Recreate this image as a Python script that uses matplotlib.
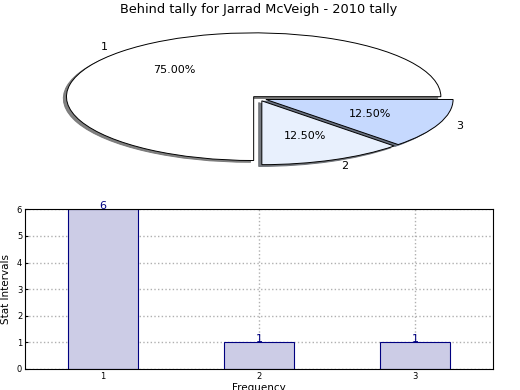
import matplotlib
matplotlib.use('Agg')
import matplotlib.pyplot as plt

# data
slice_labels = ['1', '2', '3']
slice_counts = [6, 1, 1]
slice_colors = ['#ffffff', '#e8f0fd', '#c6d9fe']

bar_positions = [1, 2, 3]
bar_counts = [6, 1, 1]
bar_tick_labels = ['1', '2', '3']
y_ticks = [0, 1, 2, 3, 4, 5, 6]

title = 'Behind tally for Jarrad McVeigh - 2010 tally'

fig = plt.figure(figsize=(5.2, 3.9), dpi=100)
fig.subplots_adjust(left=0.048, right=0.948, bottom=0.054, top=0.952, hspace=0.195)

# top: stretched pie with shadow
ax1 = fig.add_subplot(211)
wedges, texts, autotexts = ax1.pie(slice_counts, labels=slice_labels, colors=slice_colors,
                                   explode=[0.04, 0.04, 0.04], autopct='%1.2f%%',
                                   shadow=dict(ox=-0.012, oy=-0.02, shade=0.55, alpha=0.9),
                                   startangle=0,
                                   wedgeprops=dict(edgecolor='black', linewidth=0.7),
                                   textprops=dict(fontsize=8))
ax1.set_aspect('auto')
ax1.set_xlim(-1.25, 1.25)
ax1.set_ylim(-1.25, 1.25)
ax1.set_title(title, fontsize=9.25, pad=4)

# bottom: frequency bars
ax2 = fig.add_subplot(212)
bars = ax2.bar(bar_positions, bar_counts, width=0.45, color='#ccccE6',
               edgecolor='navy', linewidth=0.8, zorder=2)
for x, v in zip(bar_positions, bar_counts):
    ax2.text(x, v, str(v), ha='center', va='baseline', color='navy', fontsize=8, zorder=3)

ax2.set_xlim(0.5, 3.5)
ax2.set_ylim(0, 6)
ax2.set_xticks(bar_positions)
ax2.set_xticklabels(bar_tick_labels)
ax2.set_yticks(y_ticks)
ax2.tick_params(labelsize=6, length=2, direction='in', pad=2)
ax2.grid(True, linestyle=':', color='#b0b0b0', linewidth=1, zorder=0)
ax2.set_axisbelow(True)
ax2.set_ylabel('Stat Intervals', fontsize=7.5, labelpad=4)
ax2.set_xlabel('Frequency', fontsize=7.5, labelpad=2)

fig.savefig('out.png', dpi=100)
